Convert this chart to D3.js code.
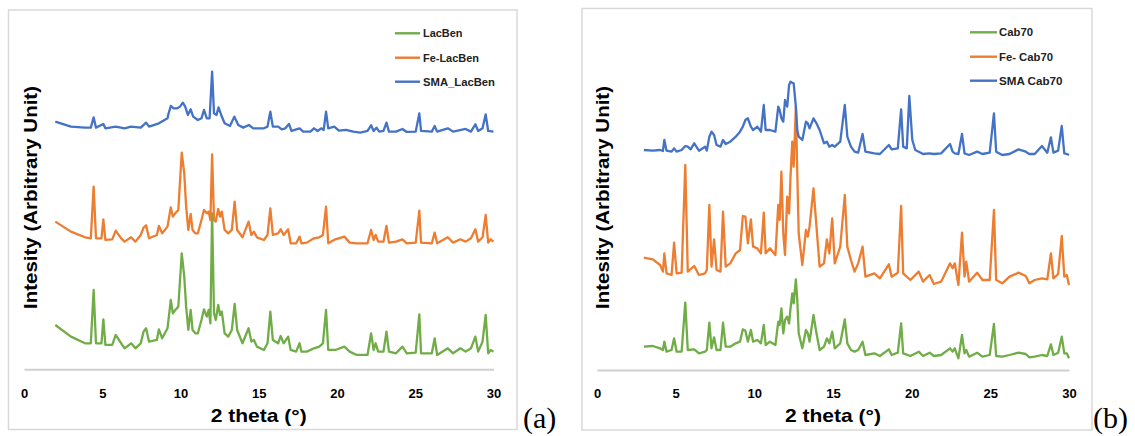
<!DOCTYPE html>
<html><head><meta charset="utf-8">
<script src="https://cdn.jsdelivr.net/npm/d3@7"></script>
<style>body{margin:0;background:#fff}svg{display:block}</style>
</head><body>
<svg id="c" width="1135" height="436"></svg>
<script>
// ---- data: [2theta (deg), intensity (arbitrary units, stacked)] ----
const xTicks = [0, 5, 10, 15, 20, 25, 30];
const legendLeft = ["LacBen", "Fe-LacBen", "SMA_LacBen"];
const legendRight = ["Cab70", "Fe- Cab70", "SMA Cab70"];

const lacBen = [[2.0,133],[3.0,98],[3.9,78],[4.27,78],[4.45,238],[4.6,78],[4.95,78],[5.07,150],[5.2,73],[5.64,73],[5.86,103],[6.21,78],[6.43,63],[6.84,78],[7.12,63],[7.46,78],[7.64,113],[7.8,123],[7.99,83],[8.49,88],[8.62,120],[8.83,93],[9.17,123],[9.38,208],[9.51,168],[9.67,178],[9.86,188],[10.08,348],[10.24,278],[10.36,188],[10.5,118],[10.65,178],[10.77,118],[10.95,108],[11.11,108],[11.34,148],[11.5,180],[11.68,158],[11.8,178],[11.91,138],[12.02,468],[12.14,168],[12.25,148],[12.41,193],[12.53,163],[12.64,173],[12.82,108],[13.05,98],[13.28,118],[13.46,196],[13.62,118],[13.96,78],[14.35,123],[14.53,83],[14.69,88],[14.88,68],[15.33,58],[15.56,78],[15.74,173],[15.9,88],[16.24,78],[16.4,100],[16.59,78],[16.88,98],[17.04,58],[17.39,53],[17.61,78],[17.73,53],[18.07,53],[18.53,63],[18.87,68],[19.1,78],[19.3,178],[19.44,58],[19.89,58],[20.47,68],[20.81,53],[21.26,43],[21.95,43],[22.18,108],[22.34,58],[22.47,78],[22.63,53],[22.97,53],[23.16,113],[23.32,53],[23.77,48],[24.18,68],[24.46,48],[25.03,50],[25.26,165],[25.37,48],[26.06,48],[26.24,93],[26.4,43],[27.08,63],[27.42,48],[27.88,63],[28.22,53],[28.56,63],[28.84,98],[29.02,53],[29.3,83],[29.5,163],[29.66,48],[29.82,58],[30.0,53]];

const feLacBen = [[2.0,443],[3.0,413],[3.9,396],[4.27,393],[4.45,548],[4.6,393],[4.95,393],[5.07,450],[5.2,388],[5.64,390],[5.86,416],[6.21,393],[6.43,383],[6.84,396],[7.12,383],[7.46,403],[7.64,425],[7.8,432],[7.99,393],[8.49,403],[8.62,430],[8.83,408],[9.17,428],[9.38,486],[9.51,458],[9.67,468],[9.86,478],[10.08,650],[10.24,588],[10.36,488],[10.5,418],[10.65,466],[10.77,418],[10.95,408],[11.11,408],[11.34,448],[11.5,478],[11.68,468],[11.8,473],[11.91,448],[12.02,645],[12.14,448],[12.25,443],[12.41,481],[12.53,458],[12.64,473],[12.82,418],[13.05,408],[13.28,418],[13.46,503],[13.62,418],[13.96,396],[14.35,443],[14.53,403],[14.69,413],[14.88,396],[15.33,388],[15.56,403],[15.74,483],[15.9,403],[16.24,408],[16.4,420],[16.59,403],[16.88,420],[17.04,378],[17.39,378],[17.61,398],[17.73,378],[18.07,380],[18.53,393],[18.87,396],[19.1,403],[19.3,488],[19.44,378],[19.89,390],[20.47,398],[20.81,380],[21.26,378],[21.95,378],[22.18,418],[22.34,388],[22.47,403],[22.63,383],[22.97,383],[23.16,430],[23.32,380],[23.77,383],[24.18,390],[24.46,378],[25.03,380],[25.26,476],[25.37,380],[26.06,378],[26.24,410],[26.4,378],[27.08,396],[27.42,380],[27.88,390],[28.22,383],[28.56,393],[28.84,420],[29.02,383],[29.3,396],[29.5,463],[29.66,380],[29.82,390],[30.0,383]];

const smaLacBen = [[2.0,743],[3.0,728],[3.9,725],[4.27,725],[4.45,756],[4.6,725],[5.07,736],[5.2,723],[5.86,728],[6.43,723],[6.84,728],[7.46,725],[7.8,740],[7.99,728],[8.62,738],[9.17,753],[9.24,768],[9.38,790],[9.56,783],[9.79,783],[9.97,788],[10.15,800],[10.3,788],[10.47,763],[10.65,780],[10.81,758],[11.11,748],[11.34,753],[11.5,778],[11.68,753],[11.86,753],[12.02,893],[12.14,768],[12.3,763],[12.43,786],[12.6,763],[12.82,738],[13.16,730],[13.44,758],[13.69,733],[14.01,725],[14.37,733],[14.65,723],[15.33,723],[15.56,728],[15.74,773],[15.9,728],[16.24,728],[16.47,720],[16.7,723],[16.93,736],[17.09,715],[17.61,723],[17.84,713],[18.3,713],[18.53,723],[18.76,715],[18.99,723],[19.15,718],[19.3,773],[19.44,723],[19.83,728],[20.12,716],[20.58,718],[21.04,713],[21.49,710],[21.95,715],[22.18,732],[22.34,715],[22.52,725],[22.7,713],[22.97,715],[23.16,740],[23.32,713],[23.77,713],[24.18,721],[24.46,712],[25.03,713],[25.26,768],[25.37,715],[26.06,713],[26.24,730],[26.4,713],[27.08,723],[27.42,713],[28.22,721],[28.56,713],[28.84,735],[29.02,715],[29.3,723],[29.5,765],[29.66,715],[30.0,713]];

const cab70 = [[2.98,70],[3.55,72],[4.01,65],[4.19,60],[4.28,85],[4.42,55],[4.74,60],[4.9,95],[5.06,55],[5.38,55],[5.61,202],[5.77,60],[6.18,62],[6.48,50],[6.87,55],[6.98,60],[7.14,142],[7.28,65],[7.44,98],[7.6,60],[7.85,60],[8.01,142],[8.18,70],[8.47,70],[8.82,80],[9.09,85],[9.27,122],[9.43,118],[9.59,85],[9.78,120],[9.92,85],[10.19,90],[10.42,80],[10.6,135],[10.72,75],[10.99,85],[11.34,75],[11.52,145],[11.61,135],[11.72,185],[11.84,110],[11.95,150],[12.09,160],[12.21,140],[12.3,185],[12.41,230],[12.5,200],[12.64,272],[12.73,210],[12.82,110],[13.05,65],[13.28,120],[13.4,110],[13.51,85],[13.76,165],[13.95,110],[14.15,60],[14.43,70],[14.61,95],[14.77,80],[14.95,115],[15.11,65],[15.46,80],[15.75,152],[15.91,80],[16.14,60],[16.37,55],[16.6,60],[16.88,85],[17.06,45],[17.63,50],[17.98,42],[18.55,62],[18.73,45],[19.12,52],[19.33,140],[19.46,50],[19.92,42],[20.45,55],[20.72,42],[21.14,52],[21.41,42],[21.87,45],[22.44,65],[22.6,55],[22.74,65],[22.97,35],[23.2,105],[23.36,50],[23.47,60],[23.65,40],[24.16,52],[24.5,40],[24.96,45],[25.23,138],[25.37,42],[25.76,40],[26.22,45],[26.79,52],[27.25,48],[27.48,38],[27.82,40],[28.28,45],[28.62,42],[28.85,77],[29.01,45],[29.31,52],[29.54,100],[29.7,50],[29.86,50],[30.0,35]];

const feCab70 = [[2.98,337],[3.55,332],[4.01,315],[4.19,295],[4.28,350],[4.42,290],[4.74,285],[4.9,382],[5.06,290],[5.38,292],[5.61,615],[5.77,295],[6.18,312],[6.48,285],[6.87,290],[6.98,300],[7.14,495],[7.28,310],[7.44,392],[7.6,300],[7.85,295],[8.01,475],[8.18,310],[8.47,320],[8.82,350],[9.09,360],[9.27,462],[9.43,460],[9.59,380],[9.78,452],[9.92,370],[10.19,365],[10.42,350],[10.6,472],[10.72,350],[10.99,365],[11.34,345],[11.52,495],[11.61,450],[11.72,595],[11.84,410],[11.95,345],[12.09,520],[12.21,470],[12.3,580],[12.41,685],[12.5,610],[12.64,790],[12.73,590],[12.82,410],[13.05,315],[13.28,420],[13.4,400],[13.51,430],[13.76,545],[13.95,430],[14.15,310],[14.43,320],[14.61,392],[14.77,350],[14.95,455],[15.11,320],[15.46,370],[15.75,525],[15.91,370],[16.14,330],[16.37,295],[16.6,320],[16.88,370],[17.06,280],[17.63,290],[17.98,275],[18.55,317],[18.73,280],[19.12,292],[19.33,492],[19.46,290],[19.92,270],[20.45,295],[20.72,265],[21.14,285],[21.41,258],[21.87,265],[22.44,320],[22.6,305],[22.74,320],[22.97,255],[23.2,412],[23.36,280],[23.47,325],[23.65,265],[24.16,292],[24.5,270],[24.96,270],[25.23,480],[25.37,270],[25.76,260],[26.22,280],[26.79,292],[27.25,282],[27.48,260],[27.82,270],[28.28,275],[28.62,272],[28.85,350],[29.01,275],[29.31,288],[29.54,402],[29.7,280],[29.86,285],[30.0,255]];

const smaCab70 = [[2.98,660],[3.55,658],[4.01,660],[4.19,657],[4.28,690],[4.42,658],[4.74,655],[4.9,665],[5.06,655],[5.38,660],[5.61,672],[5.77,670],[5.95,662],[6.18,680],[6.48,658],[6.87,670],[6.98,658],[7.14,700],[7.28,715],[7.44,705],[7.6,675],[7.85,670],[8.01,690],[8.18,678],[8.47,685],[8.82,700],[9.09,715],[9.27,730],[9.43,750],[9.59,755],[9.78,730],[9.92,720],[10.19,730],[10.42,715],[10.6,795],[10.72,720],[10.99,720],[11.34,715],[11.52,790],[11.61,780],[11.72,755],[11.84,745],[11.95,810],[12.09,790],[12.21,855],[12.3,865],[12.41,862],[12.5,860],[12.64,790],[12.73,720],[12.82,700],[13.05,690],[13.28,745],[13.4,740],[13.51,725],[13.76,755],[13.95,740],[14.15,720],[14.43,680],[14.61,685],[14.77,670],[14.95,675],[15.11,670],[15.46,685],[15.75,795],[15.91,700],[16.14,670],[16.37,655],[16.6,652],[16.88,708],[17.06,655],[17.63,650],[17.98,648],[18.55,675],[18.73,662],[19.12,665],[19.33,782],[19.46,670],[19.69,665],[19.85,822],[20.04,690],[20.23,660],[20.45,655],[20.72,648],[21.14,650],[21.41,648],[21.87,650],[22.44,678],[22.6,655],[22.74,650],[22.97,648],[23.2,708],[23.36,650],[23.47,648],[23.65,645],[24.16,655],[24.5,648],[24.96,652],[25.23,770],[25.37,655],[25.76,645],[26.22,648],[26.79,662],[27.25,655],[27.48,648],[27.82,648],[28.28,672],[28.62,652],[28.85,698],[29.01,652],[29.31,658],[29.54,732],[29.7,650],[29.86,648],[30.0,645]];

// ---- drawing ----
const colors = ["#70AD47", "#ED7D31", "#4472C4"];
const svg = d3.select("#c");
const FONT = "'Liberation Sans', Arial, sans-serif";

const panels = [
  { series: [lacBen, feLacBen, smaLacBen], legend: legendLeft, tag: "(a)",
    frame: [8.5, 10, 508.5, 419.5], xr: [24, 493.5], yr: [369.3, 9.3],
    leg: { x1: 395, x2: 420, tx: 423, ys: [33.3, 57.7, 81.7], w: [39.5, 56, 72] },
    tagX: 523, ytx: 37 },
  { series: [cab70, feCab70, smaCab70], legend: legendRight, tag: "(b)",
    frame: [582, 8.5, 510, 421.5], xr: [597, 1069], yr: [370, 10],
    leg: { x1: 970, x2: 997, tx: 999, ys: [32.3, 56.7, 80.7], w: [34, 54, 63.5] },
    tagX: 1093, ytx: 609 }
];

panels.forEach(p => {
  const g = svg.append("g");
  g.append("rect").attr("x", p.frame[0]).attr("y", p.frame[1])
    .attr("width", p.frame[2]).attr("height", p.frame[3])
    .attr("fill", "#fff").attr("stroke", "#D9D9D9").attr("stroke-width", 1.5);

  const x = d3.scaleLinear().domain([0, 30]).range(p.xr);
  const y = d3.scaleLinear().domain([0, 1080]).range(p.yr);

  // x axis
  const ax = g.append("g").attr("transform", `translate(0,${p.yr[0]})`)
    .call(d3.axisBottom(x).tickValues(xTicks).tickSize(0).tickPadding(19));
  ax.select(".domain").attr("stroke", "#D0D0D0").attr("stroke-width", 2);
  ax.selectAll("text").attr("font-family", FONT).attr("font-weight", "bold")
    .attr("font-size", 13).attr("fill", "#000");

  // lines
  const line = d3.line().x(d => x(d[0])).y(d => y(d[1]));
  p.series.forEach((s, i) => {
    g.append("path").datum(s).attr("d", line).attr("fill", "none")
      .attr("stroke", colors[i]).attr("stroke-width", 2.3)
      .attr("stroke-linejoin", "round");
  });

  // legend
  p.legend.forEach((name, i) => {
    const ly = p.leg.ys[i];
    g.append("line").attr("x1", p.leg.x1).attr("x2", p.leg.x2)
      .attr("y1", ly).attr("y2", ly).attr("stroke", colors[i]).attr("stroke-width", 2.4);
    g.append("text").attr("x", p.leg.tx).attr("y", ly + 4)
      .attr("font-family", FONT).attr("font-weight", "bold").attr("font-size", 11)
      .attr("textLength", p.leg.w[i]).attr("lengthAdjust", "spacingAndGlyphs")
      .attr("fill", "#222").text(name);
  });

  // axis titles
  g.append("text").attr("x", (p.xr[0] + p.xr[1]) / 2).attr("y", 421.5)
    .attr("text-anchor", "middle").attr("font-family", FONT).attr("font-weight", "bold")
    .attr("font-size", 19).attr("textLength", 96).attr("lengthAdjust", "spacingAndGlyphs")
    .attr("fill", "#000").text("2 theta (°)");
  g.append("text").attr("transform", `translate(${p.ytx},197.5) rotate(-90)`)
    .attr("text-anchor", "middle").attr("font-family", FONT).attr("font-weight", "bold")
    .attr("font-size", 19).attr("textLength", 223).attr("lengthAdjust", "spacingAndGlyphs")
    .attr("fill", "#000").text("Intesity (Arbitrary Unit)");

  // panel tag
  svg.append("text").attr("x", p.tagX).attr("y", 428)
    .attr("font-family", "'Liberation Serif', 'Times New Roman', serif")
    .attr("font-size", 30).attr("fill", "#000").text(p.tag);
});
</script>
</body></html>
